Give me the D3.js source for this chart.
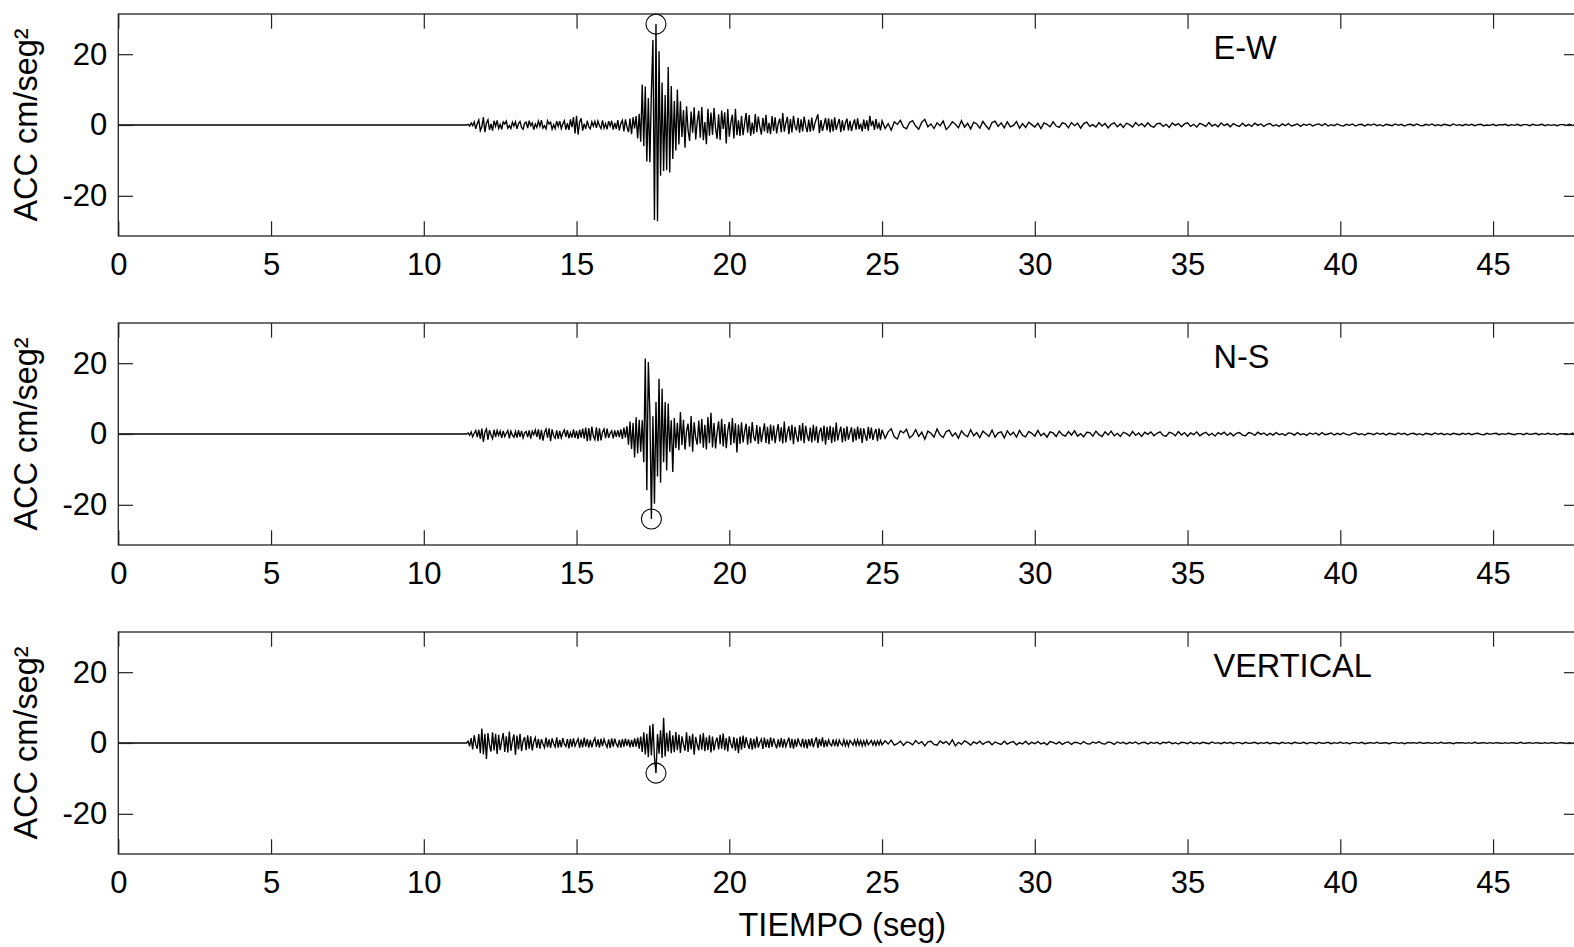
<!DOCTYPE html>
<html>
<head>
<meta charset="utf-8">
<script src="https://cdn.jsdelivr.net/npm/d3@7"></script>
<style>
  html, body { margin: 0; padding: 0; background: #fff; }
  svg { display: block; }
  text { font-family: "Liberation Sans", Arial, sans-serif; fill: #000; }
</style>
</head>
<body>
<svg id="chart" width="1574" height="947"></svg>
<script>
// ---------------- DATA ----------------
const componentNames = ["E-W", "N-S", "VERTICAL"];
const xTicks = [0, 5, 10, 15, 20, 25, 30, 35, 40, 45];
const yTicks = [-20, 0, 20];
const xAxisTitle = "TIEMPO (seg)";
const yAxisTitle = "ACC cm/seg²";
const onsetTime = 11.4;      // record start of motion (flat before)
const dtStrong = 0.05;       // sampling of strong-motion part (11.40 – 25.00 s)
const tailStart = 25.1;
const dtTail = 0.1;          // sampling of coda (25.1 – 48.0 s)
const peakTime = [17.60, 17.45, 17.60];
const peakValue = [28.5, -24.0, -8.5];

// E-W acceleration, 11.40 .. 25.00 s every 0.05 s
const ewStrong = [
  0, 0.2, -0.3, 0.6, -0.2, 0.9, -1.1, 0.4, 1.4, -1.6, -0.5, 2.2, -2.0, 0.6, 1.5, -1.4, 0.3, -1.6, 1.2, -0.4,
  1.3, -1.0, 0.2, -1.2, 0.9, 0.3, 1.1, -0.9, -0.2, -1.0, 0.8, -0.3, 0.9, -1.1, 0.4, 1.0, -0.7, -1.2, 0.5, 0.8,
  -0.9, 1.2, -0.2, 0.6, -1.3, 0.3, -0.7, 1.1, -0.4, 1.4, -0.9, -0.2, -1.1, 1.2, 0.3, 0.8, -1.2, 0.1, -1.0, 1.1,
  -0.4, 1.1, -1.0, 0.3, 1.2, -1.3, 0.5, -1.4, 1.6, -0.6, 2.2, -2.4, 2.6, -2.7, 0.8, 1.9, -1.6, 0.4, -1.1, 1.2,
  -0.5, -1.1, 0.9, -0.3, 1.0, -0.8, 1.1, -0.2, -1.0, 1.3, -0.9, 0.4, -1.2, 1.1, -0.3, 1.2, -1.3, 0.6, -1.1, 1.4,
  -1.5, 0.4, 1.3, -1.8, 1.6, -0.6, -2.0, 1.8, -2.6, 2.2, -1.0, 2.5, -3.8, 3.2, -4.7, 11.4, -6.0, 10.9, -10.3, 7.6,
  -10.5, 9.5, 24.0, -26.8, 28.5, -27.2, 20.8, -14.3, 12.0, -13.0, 8.5, -12.8, 16.4, -13.4, 11.0, -9.6, 6.8, -7.2, 10.0, -5.5,
  6.7, -3.4, 4.2, -6.4, 5.3, -1.5, -4.5, 3.8, -2.2, 5.0, -4.1, 1.0, 4.0, -3.6, 5.1, -4.3, 0.8, -5.4, 4.6, -3.0,
  3.5, -2.8, 4.8, -0.9, -3.9, 3.0, -4.2, 4.1, -1.1, 3.6, -5.2, 4.5, -3.3, 0.6, 2.9, -3.8, 4.6, -2.9, 1.3, -3.1,
  2.6, -2.9, 0.4, 3.4, -2.2, 2.8, -3.0, 0.7, -2.5, 3.1, -2.0, 2.4, -0.5, -2.7, 2.0, -1.8, 2.9, -2.3, 0.6, -2.6,
  2.5, -1.7, 2.2, -2.4, 0.3, 1.8, -2.0, 3.4, -1.9, 0.5, 2.3, -2.6, 1.7, -2.1, 2.6, -0.4, -1.5, 2.0, -2.2, 1.6,
  -1.8, 2.4, -0.3, -2.0, 1.5, -1.9, 2.1, -1.6, 0.4, 1.8, 3.0, -2.3, 1.4, -1.7, 0.2, 2.0, -1.5, 1.9, -2.1, 1.6,
  -1.8, 2.2, -1.4, 0.3, 1.7, -2.0, 1.3, -1.6, 0.5, 1.8, -1.5, 1.2, -1.7, 0.2, 1.6, -1.3, 1.9, -1.2, 0.4, -1.8,
  1.5, -1.1, 1.3, -1.6, 2.6, -0.3, 1.2, -1.4, 1.7, -1.0, 0.4, -1.5, 1.2
];
// E-W acceleration, 25.1 .. 48.0 s every 0.1 s
const ewTail = [
  -1.0, 0.4, -1.5, 0.9, 0.2, 1.3, -0.6, -1.1, 0.7, 1.2,
  -0.3, -1.2, 0.8, 1.6, -0.5, 0.3, -1.0, 0.6, -0.2, 1.1,
  -1.3, -0.4, 0.9, 0.2, -0.8, 1.2, -0.6, 0.5, -1.1, 0.8,
  0.3, -0.9, 1.0, -0.2, -1.2, 0.7, 1.1, -0.4, 0.6, -0.8,
  0.9, -0.5, -0.1, 1.0, -0.9, 0.4, -0.7, 0.8, 0.1, -0.6,
  0.5, -1.0, 0.6, 0.2, -0.5, 0.9, -0.3, -0.7, 0.6, 0.3,
  -0.8, 0.7, -0.2, 0.5, -0.9, 0.4, 0.8, -0.4, 0.1, -0.6,
  0.7, -0.3, 0.4, -0.8, 0.2, 0.6, -0.5, 0.3, -0.7, 0.5,
  0.1, -0.6, 0.7, -0.2, 0.4, -0.5, 0.6, -0.3, -0.6, 0.4,
  0.5, -0.4, 0.2, -0.7, 0.6, -0.1, 0.4, -0.5, 0.3, 0.6,
  -0.4, 0.2, -0.6, 0.5, 0.1, -0.4, 0.7, -0.3, 0.2, -0.5,
  0.6, -0.2, 0.3, -0.5, 0.4, -0.1, -0.4, 0.5, -0.3, 0.2,
  -0.4, 0.5, -0.1, 0.3, -0.4, 0.2, 0.4, -0.3, 0.1, -0.4,
  0.3, -0.2, 0.4, -0.3, 0.0, 0.3, -0.4, 0.2, -0.1, 0.3,
  -0.3, 0.1, 0.3, -0.2, 0.4, -0.3, 0.1, -0.2, 0.3, -0.1,
  -0.3, 0.2, -0.1, 0.3, -0.3, 0.1, 0.2, -0.3, 0.2, -0.1,
  0.3, -0.2, 0.1, -0.3, 0.2, 0.0, -0.2, 0.3, -0.1, 0.2,
  -0.3, 0.1, 0.2, -0.2, 0.3, -0.1, -0.2, 0.2, -0.1, 0.3,
  -0.2, 0.1, -0.2, 0.2, 0.0, -0.2, 0.3, -0.1, 0.1, -0.2,
  0.2, -0.1, 0.2, -0.2, 0.1, 0.2, -0.2, 0.0, -0.1, 0.2,
  -0.2, 0.1, 0.0, 0.2, -0.2, 0.1, -0.1, 0.2, -0.2, 0.1,
  0.1, -0.2, 0.2, -0.1, 0.0, 0.2, -0.2, 0.1, -0.1, 0.1,
  -0.2, 0.1, 0.1, -0.1, 0.2, -0.1, 0.0, 0.1, -0.2, 0.1
];

// N-S acceleration, 11.40 .. 25.00 s every 0.05 s
const nsStrong = [
  0, 0.3, -0.4, 0.6, -0.8, 0.2, 1.0, -0.9, 1.2, -1.4, 1.5, -2.2, 0.5, 1.4, -1.6, 1.1, -0.3, -1.3, 1.2, -0.9,
  1.0, -0.4, 0.8, -1.1, 0.9, -0.7, 0.2, 1.0, -1.2, 0.8, -0.3, -0.9, 0.7, -1.0, 1.1, -0.8, 0.9, -1.1, 0.3, 0.7,
  -0.9, 1.0, -1.3, 0.8, -0.2, 1.1, -0.8, 1.3, -1.5, 1.2, -1.9, 0.4, 1.4, -1.1, 1.6, -2.0, 1.3, -0.5, -1.2, 1.0,
  -1.4, 0.9, -1.1, 0.3, 1.2, -0.8, 1.1, -1.2, 0.4, -1.0, 1.3, -1.1, 0.9, -1.4, 1.2, -1.0, 1.5, -1.3, 1.8, -2.0,
  1.7, -1.9, 2.1, -0.6, -1.6, 1.9, -2.0, 1.6, -1.8, 0.5, 1.4, -1.2, 1.5, -1.1, 0.2, 0.9, -1.2, 1.0, -0.8, 1.1,
  -0.9, 1.3, -1.4, 1.8, -1.0, 2.2, -3.0, 3.5, -4.2, 3.1, -6.6, 4.7, -5.5, 4.0, -5.0, 3.9, -8.0, 21.3, -15.9, 20.3,
  6.0, -24.0, 5.0, -19.7, 9.0, -12.0, 15.6, -13.8, 12.8, -8.0, 9.0, -10.3, 8.6, -5.0, 3.9, -10.7, 4.5, -4.0, 3.2, -4.6,
  6.2, -3.1, 4.0, -4.4, 0.8, 2.9, -3.6, 5.1, -5.0, 3.3, -1.0, -3.0, 3.8, -2.7, 4.2, -3.9, 2.6, -4.4, 4.8, -2.6,
  6.0, -3.8, 3.1, -4.1, 0.5, 3.6, -2.9, 4.3, -3.5, 2.8, -4.0, 0.9, 3.4, -3.1, 4.5, -2.6, 3.0, -5.2, 2.7, -2.8,
  3.3, -2.4, 0.6, 2.9, -3.0, 2.2, -2.6, 3.4, -0.8, -2.0, 2.5, -2.8, 2.1, -2.3, 0.4, 3.0, -2.5, 2.0, -2.9, 2.7,
  -1.9, 2.4, -2.6, 0.5, 2.8, -2.1, 1.9, -2.7, 3.5, -2.4, 0.3, 2.2, -1.8, 2.6, -2.9, 2.0, -0.6, -2.2, 2.5, -1.9,
  3.1, -2.6, 2.3, -0.4, -2.0, 1.8, -2.4, 2.6, -1.9, 2.2, -2.5, 0.5, 1.8, -2.1, 2.4, -3.0, 2.0, -1.7, 2.3, -2.6,
  1.9, -2.2, 3.2, -1.8, 0.4, 2.1, -2.4, 1.7, -2.0, 2.2, -1.6, 0.3, 1.9, -2.3, 1.5, -1.8, 2.1, -1.4, 1.7, -2.5,
  1.6, -0.4, -1.9, 2.0, -1.3, 1.8, -1.7, 0.3, 1.4, -2.0, 1.6, -1.5, 1.2
];
// N-S acceleration, 25.1 .. 48.0 s every 0.1 s
const nsTail = [
  -1.2, 0.6, 1.5, -0.8, -1.4, 0.9, 0.3, 1.3, -1.1, -0.4,
  1.2, -0.7, 0.5, -1.5, 0.8, 0.2, -0.9, 1.4, -0.3, -1.0,
  0.7, 1.1, -0.6, 0.3, -1.2, 0.9, -0.2, -0.8, 1.2, -0.5,
  0.4, -1.0, 0.8, 0.1, -0.7, 1.1, -0.9, 0.3, 0.6, -1.1,
  0.9, -0.3, 0.5, -0.9, 1.0, -0.4, -0.8, 0.7, 0.2, -0.6,
  1.0, -0.5, 0.2, -0.9, 0.6, 0.3, -0.7, 0.8, -0.2, -0.6,
  0.7, -0.3, 0.9, -0.6, 0.1, -0.8, 0.5, 0.4, -0.6, 0.8,
  -0.2, -0.7, 0.6, -0.3, 0.8, -0.5, 0.2, -0.7, 0.5, 0.1,
  -0.6, 0.7, -0.4, 0.3, -0.7, 0.5, -0.1, 0.6, -0.5, 0.2,
  0.6, -0.4, -0.6, 0.5, 0.2, -0.5, 0.7, -0.3, 0.4, -0.6,
  0.3, -0.2, 0.6, -0.5, 0.1, 0.5, -0.4, 0.2, -0.6, 0.4,
  -0.1, 0.5, -0.4, 0.3, -0.5, 0.2, 0.4, -0.3, -0.5, 0.4,
  0.2, -0.4, 0.5, -0.1, 0.3, -0.4, 0.2, -0.3, 0.4, -0.2,
  0.1, -0.4, 0.3, 0.2, -0.3, 0.4, -0.2, 0.1, -0.4, 0.3,
  -0.1, 0.3, -0.3, 0.4, -0.2, 0.0, 0.3, -0.3, 0.2, -0.2,
  0.3, -0.1, -0.3, 0.2, 0.3, -0.2, 0.1, -0.3, 0.2, 0.1,
  -0.2, 0.3, -0.1, 0.2, -0.3, 0.2, 0.0, -0.2, 0.3, -0.1,
  0.2, -0.3, 0.1, 0.2, -0.2, 0.1, -0.3, 0.2, 0.0, -0.2,
  0.3, -0.1, 0.2, -0.2, 0.1, -0.2, 0.2, 0.0, -0.2, 0.2,
  -0.1, 0.2, -0.2, 0.1, 0.2, -0.1, -0.2, 0.2, -0.1, 0.1,
  0.2, -0.2, 0.1, -0.1, 0.2, 0.0, -0.2, 0.1, 0.1, -0.2,
  0.2, -0.1, 0.0, 0.2, -0.2, 0.1, -0.1, 0.2, -0.1, 0.1,
  -0.2, 0.1, 0.0, 0.1, -0.1, 0.2, -0.1, 0.1, -0.1, 0.1
];

// Vertical acceleration, 11.40 .. 25.00 s every 0.05 s
const vStrong = [
  0, 0.5, -0.9, 1.4, -1.8, 2.2, -0.4, -1.6, 2.5, -2.9, 4.1, -3.2, 2.6, -4.5, 2.8, -0.6, -2.4, 3.0, -2.1, 2.6,
  -3.1, 2.3, -2.0, 0.7, 2.8, -2.5, 1.9, -2.7, 3.2, -2.2, 0.5, 2.4, -3.4, 2.1, -1.8, 2.6, -2.3, 0.6, 1.7, -2.0,
  2.2, -1.6, 1.9, -2.1, 0.4, 1.5, -1.4, 1.2, -1.6, 1.1, -0.3, -1.3, 1.5, -1.2, 1.0, -1.4, 1.3, -0.2, -1.1, 1.6,
  -1.3, 0.9, -1.2, 1.4, -0.3, -1.0, 1.1, -1.5, 1.2, -1.1, 1.3, -0.9, 0.2, 1.2, -1.4, 1.0, -1.2, 1.5, -1.0, 1.1,
  -1.3, 0.9, -1.2, 0.4, 1.4, -1.1, 1.0, -1.3, 1.2, -0.9, 1.1, -0.2, -1.2, 1.0, -1.4, 1.3, -1.0, 1.2, -0.3, -1.1,
  0.9, -1.3, 1.1, -1.0, 1.2, -0.8, 1.0, -1.2, 0.9, -1.1, 1.3, -1.0, 1.5, -1.6, 1.8, -2.5, 3.0, -3.2, 2.6, -4.0,
  4.9, -3.5, 5.4, -4.0, -8.5, 2.5, -3.0, 3.6, -4.2, 7.1, -3.8, 2.9, -2.4, 3.5, -2.9, 2.2, -2.6, 3.1, -2.0, 2.4,
  -2.8, 1.9, -0.4, -2.2, 3.0, -2.5, 2.0, -1.8, 2.6, -3.3, 1.7, -0.5, -2.1, 2.4, -1.9, 2.8, -2.3, 1.6, -2.0, 2.2,
  -2.7, 1.8, -2.1, 0.3, 1.5, -1.8, 2.3, -1.6, 2.7, -2.0, 1.4, -2.4, 1.9, -0.2, -1.5, 1.7, -2.2, 1.3, -2.9, 1.8,
  -1.9, 2.1, -1.4, 1.6, -0.3, -1.6, 1.4, -1.9, 1.2, -1.5, 1.8, -1.3, 0.2, 1.1, -1.7, 1.5, -1.2, 1.0, -1.4, 1.6,
  -1.1, 1.3, -0.2, -1.5, 1.0, -1.2, 1.4, -1.3, 1.1, -1.0, 0.3, 1.5, -1.4, 1.2, -1.6, 1.0, -1.1, 1.3, -0.2, -0.9,
  1.2, -1.3, 1.0, -1.5, 1.1, -0.9, 1.3, -1.2, 0.4, 1.6, -1.4, 1.1, -0.9, 1.6, -1.2, 0.8, -1.0, 0.9, -0.3, -0.8,
  1.0, -0.9, 0.7, -1.0, 0.8, -0.2, -0.7, 0.9, -0.8, 0.6, -0.9, 0.7, 0.1, -0.6, 0.8, -0.7, 0.9, -0.6, 0.7, -0.8,
  0.6, -0.7, 0.8, -0.5, 0.1, 0.7, -0.6, 0.5, -0.7, 0.6, -0.5, 0.7, -0.5
];
// Vertical acceleration, 25.1 .. 48.0 s every 0.1 s
const vTail = [
  0.6, -0.3, 0.8, -0.6, -0.2, 0.5, -0.7, 0.3, 0.1, -0.5,
  0.7, -0.2, 0.4, -0.8, 0.3, 0.5, -0.4, -0.6, 0.6, -0.1,
  0.4, -0.5, 0.9, -0.8, 0.2, -0.4, 0.6, 0.1, -0.6, 0.3,
  -0.2, 0.5, -0.4, 0.2, 0.4, -0.5, 0.3, -0.1, -0.4, 0.5,
  -0.3, 0.2, 0.4, -0.5, 0.1, -0.3, 0.5, -0.4, 0.2, -0.2,
  0.4, -0.3, 0.1, -0.5, 0.4, 0.2, -0.3, 0.3, -0.4, 0.1,
  0.3, -0.4, 0.2, 0.1, -0.3, 0.4, -0.2, -0.3, 0.3, -0.1,
  0.4, -0.2, -0.3, 0.3, 0.1, -0.4, 0.3, -0.1, 0.2, -0.3,
  0.2, -0.1, 0.3, -0.3, 0.1, 0.2, -0.3, 0.2, -0.1, 0.2,
  -0.3, 0.2, 0.0, 0.3, -0.2, 0.1, -0.3, 0.2, 0.1, -0.2,
  0.3, -0.2, 0.1, -0.2, 0.2, 0.0, -0.2, 0.3, -0.1, 0.1,
  -0.2, 0.2, -0.1, 0.2, -0.2, 0.1, 0.1, -0.2, 0.2, -0.1,
  0.0, 0.2, -0.2, 0.1, -0.1, 0.2, -0.2, 0.1, 0.0, -0.2,
  0.2, -0.1, 0.1, -0.2, 0.2, 0.0, -0.1, 0.2, -0.2, 0.1,
  0.1, -0.2, 0.2, -0.1, 0.0, 0.2, -0.2, 0.1, -0.1, 0.2,
  -0.1, 0.1, -0.2, 0.1, 0.1, -0.1, 0.2, -0.2, 0.0, 0.1,
  -0.1, 0.2, -0.1, 0.0, 0.1, -0.2, 0.1, 0.1, -0.1, 0.1,
  -0.2, 0.1, 0.0, 0.1, -0.1, 0.2, -0.1, 0.0, 0.1, -0.1,
  0.1, -0.1, 0.2, -0.1, 0.0, 0.1, -0.2, 0.1, 0.0, 0.1,
  -0.1, 0.1, -0.1, 0.2, -0.1, 0.0, 0.1, -0.1, 0.1, -0.1,
  0.1, 0.0, -0.1, 0.1, -0.1, 0.1, 0.0, -0.1, 0.2, -0.1,
  0.0, 0.1, -0.1, 0.1, 0.0, -0.1, 0.1, -0.1, 0.1, 0.0,
  -0.1, 0.1, 0.0, -0.1, 0.1, -0.1, 0.1, 0.0, -0.1, 0.1
];

const strongSeries = [ewStrong, nsStrong, vStrong];
const tailSeries = [ewTail, nsTail, vTail];

// ---------------- LAYOUT ----------------
const W = 1574, H = 947;
const plotLeft = 118.3, plotRight = 1578.6;
const panelTops = [14, 323, 632];
const panelH = 222;
const xMax = 47.8;
const yLim = 31.35;
const tickLen = 14.7;
const tickFont = 31;
const labelFont = 32.5;

const svg = d3.select("#chart");
svg.append("rect").attr("width", W).attr("height", H).attr("fill", "#fff");

const x = d3.scaleLinear().domain([0, xMax]).range([plotLeft, plotRight]);

function buildSeries(strong, tail) {
  const pts = [{ t: 0, v: 0 }];
  strong.forEach((v, i) => pts.push({ t: onsetTime + i * dtStrong, v }));
  tail.forEach((v, i) => pts.push({ t: tailStart + i * dtTail, v }));
  return pts;
}

componentNames.forEach((name, k) => {
  const top = panelTops[k];
  const y = d3.scaleLinear().domain([-yLim, yLim]).range([top + panelH, top]);
  const g = svg.append("g");

  // trace
  const pts = buildSeries(strongSeries[k], tailSeries[k]);
  const line = d3.line().x(d => x(d.t)).y(d => y(d.v));
  g.append("path")
    .datum(pts)
    .attr("d", line)
    .attr("fill", "none")
    .attr("stroke", "#000")
    .attr("stroke-width", 1.35)
    .attr("stroke-linejoin", "miter");

  // peak marker
  g.append("circle")
    .attr("cx", x(peakTime[k]))
    .attr("cy", y(peakValue[k]))
    .attr("r", 10)
    .attr("fill", "none")
    .attr("stroke", "#000")
    .attr("stroke-width", 1.1);

  // axes
  const fmt = d => String(d);
  const axB = g.append("g").attr("transform", `translate(0,${top + panelH})`)
    .call(d3.axisBottom(x).tickValues(xTicks).tickFormat(fmt).tickSizeInner(-tickLen).tickSizeOuter(0).tickPadding(17));
  const axT = g.append("g").attr("transform", `translate(0,${top})`)
    .call(d3.axisTop(x).tickValues(xTicks).tickFormat("").tickSizeInner(-tickLen).tickSizeOuter(0));
  const axL = g.append("g").attr("transform", `translate(${plotLeft},0)`)
    .call(d3.axisLeft(y).tickValues(yTicks).tickFormat(fmt).tickSizeInner(-tickLen).tickSizeOuter(0).tickPadding(11));
  const axR = g.append("g").attr("transform", `translate(${plotRight},0)`)
    .call(d3.axisRight(y).tickValues(yTicks).tickFormat("").tickSizeInner(-tickLen).tickSizeOuter(0));

  [axB, axT, axL, axR].forEach(a => {
    a.select(".domain").remove();
    a.selectAll(".tick line").attr("stroke", "#222").attr("stroke-width", 1.2);
    a.selectAll("text")
      .style("font-family", '"Liberation Sans", Arial, sans-serif')
      .style("font-size", tickFont + "px")
      .attr("fill", "#000");
  });

  // box
  g.append("rect")
    .attr("x", plotLeft).attr("y", top)
    .attr("width", plotRight - plotLeft).attr("height", panelH)
    .attr("fill", "none").attr("stroke", "#222").attr("stroke-width", 1.3);

  // component label
  g.append("text")
    .attr("x", x(35.85))
    .attr("y", y(18.7))
    .style("font-size", labelFont + "px")
    .text(name);

  // y axis title
  g.append("text")
    .attr("transform", `translate(37,${top + panelH / 2}) rotate(-90)`)
    .attr("text-anchor", "middle")
    .style("font-size", labelFont + "px")
    .text(yAxisTitle);
});

// x axis title
svg.append("text")
  .attr("x", x(23.7))
  .attr("y", 936)
  .attr("text-anchor", "middle")
  .style("font-size", labelFont + "px")
  .text(xAxisTitle);
</script>
</body>
</html>
